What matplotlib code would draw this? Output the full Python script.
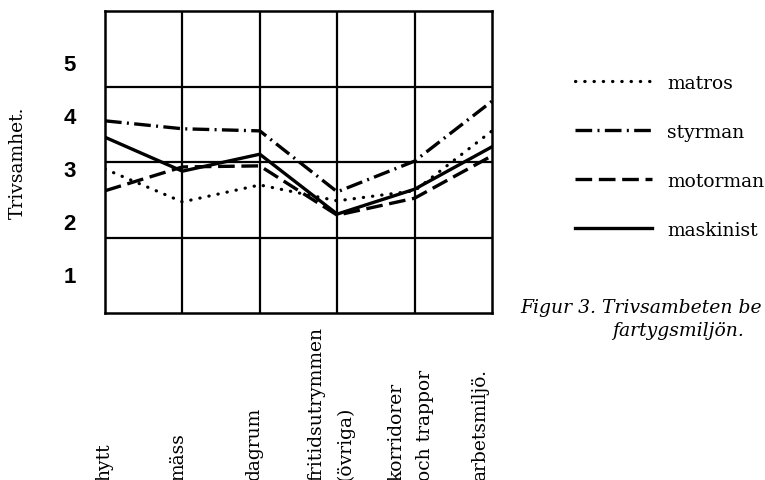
import matplotlib
matplotlib.use("Agg")
import matplotlib.pyplot as plt
import matplotlib.transforms as mtransforms
import numpy as np

# ---- data ----
categories = ["hytt", "mäss", "dagrum", "fritidsutrymmen\n(övriga)",
              "korridorer\noch trappor", "arbetsmiljö."]
matros = [2.98, 2.36, 2.68, 2.38, 2.57, 3.70]
styrman = [3.89, 3.74, 3.70, 2.55, 3.13, 4.26]
motorman = [2.57, 3.02, 3.04, 2.11, 2.43, 3.23]
maskinist = [3.58, 2.94, 3.26, 2.13, 2.60, 3.40]
series_names = ["matros", "styrman", "motorman", "maskinist"]
ytick_values = [1, 2, 3, 4, 5]
ylabel = "Trivsamhet."
caption1 = "Figur 3. Trivsambeten be"
caption2 = "fartygsmiljön."

W, H = 765, 481
fig = plt.figure(figsize=(W / 100, H / 100), dpi=100)
ax = fig.add_axes([105 / W, (H - 314) / H, 387 / W, 302 / H])

x = np.arange(len(categories))
styles = {
    "matros": dict(linestyle=(0, (0.1, 2.8)), dash_capstyle="round", lw=2.3),
    "styrman": dict(linestyle=(0, (5.0, 1.6, 0.6, 1.6)), lw=2.4),
    "motorman": dict(linestyle=(0, (5.0, 2.0)), lw=2.4),
    "maskinist": dict(linestyle="-", lw=2.4),
}
handles = []
for name, vals in zip(series_names, [matros, styrman, motorman, maskinist]):
    (ln,) = ax.plot(x, vals, color="black", label=name, **styles[name])
    handles.append(ln)

ax.set_xlim(0, len(categories) - 1)
ax.set_ylim(0.264, 5.962)

# grid
for gy in [1.679, 3.113, 4.528]:
    ax.axhline(gy, color="black", lw=1.6, zorder=0)
for gx in x[1:-1]:
    ax.axvline(gx, color="black", lw=1.6, zorder=0)
for s in ax.spines.values():
    s.set_linewidth(1.8)

ax.set_xticks([])
ax.set_yticks(ytick_values)
ax.set_yticklabels([str(v) for v in ytick_values], fontfamily="Liberation Sans",
                   fontweight="bold", fontsize=16)
ax.tick_params(axis="y", length=0, pad=21)

# category labels (vertical, anchored at figure bottom)
trans = mtransforms.blended_transform_factory(ax.transData, fig.transFigure)
nudges = [-1, -4, -6, -6, -4, -12]
for xi, lab, nd in zip(x, categories, nudges):
    t = mtransforms.offset_copy(trans, fig=fig, x=nd, y=0, units="dots")
    ax.text(xi, 0.0, lab, transform=t, rotation=90, ha="center", va="bottom",
            multialignment="left", fontfamily="DejaVu Serif", fontsize=13.5,
            linespacing=1.75, clip_on=False)

fig.text(18 / W, 1 - 163 / H, ylabel, rotation=90, ha="center", va="center",
         fontfamily="DejaVu Serif", fontsize=13.5)

leg = fig.legend(handles=handles, loc="upper left",
                 bbox_to_anchor=(575 / W, 1 - 75 / H), frameon=False,
                 prop=dict(family="DejaVu Serif", size=13.5),
                 handlelength=4.1, handletextpad=0.8, labelspacing=1.65,
                 borderpad=0, borderaxespad=0)

fig.text(520 / W, 1 - 308 / H, caption1, ha="left", va="center",
         fontfamily="DejaVu Serif", fontstyle="italic", fontsize=13.5)
fig.text(612 / W, 1 - 331 / H, caption2, ha="left", va="center",
         fontfamily="DejaVu Serif", fontstyle="italic", fontsize=13.5)

fig.savefig("out.png", dpi=100)
